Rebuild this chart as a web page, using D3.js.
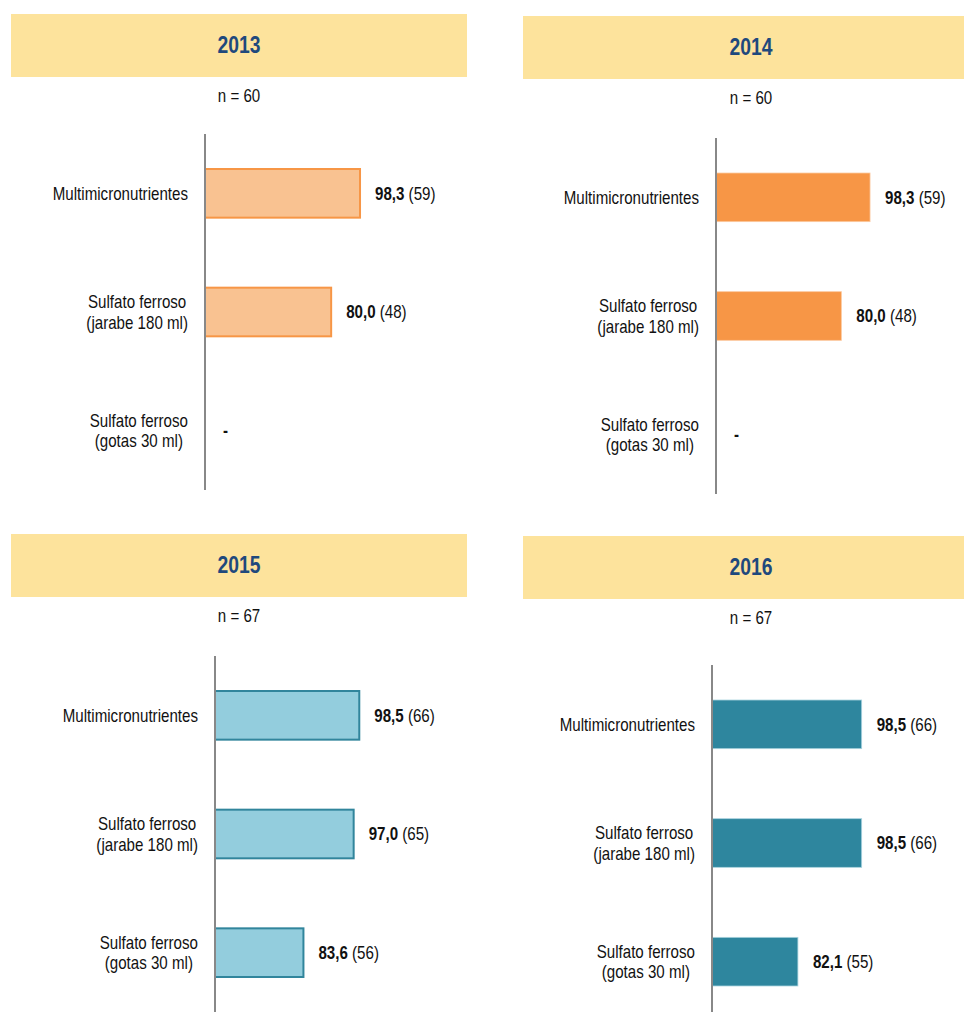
<!DOCTYPE html>
<html>
<head>
<meta charset="utf-8">
<script src="https://cdn.jsdelivr.net/npm/d3@7"></script>
<style>
  html, body { margin: 0; padding: 0; background: #fff; }
  svg { display: block; }
  text { font-family: 'Liberation Sans', Arial, sans-serif; }
</style>
</head>
<body>
<svg id="chart" width="964" height="1012"></svg>
<script>
// ---------------- DATA ----------------
const years = ["2013", "2014", "2015", "2016"];
const sampleN = [60, 60, 67, 67];
const categories = [
  ["Multimicronutrientes"],
  ["Sulfato ferroso", "(jarabe 180 ml)"],
  ["Sulfato ferroso", "(gotas 30 ml)"]
];
const pct2013 = [98.3, 80.0, null];
const cnt2013 = [59, 48, null];
const pct2014 = [98.3, 80.0, null];
const cnt2014 = [59, 48, null];
const pct2015 = [98.5, 97.0, 83.6];
const cnt2015 = [66, 65, 56];
const pct2016 = [98.5, 98.5, 82.1];
const cnt2016 = [66, 66, 55];
const valueDomains = [[0, 100], [0, 100], [60, 100], [60, 100]];

const pctSeries = [pct2013, pct2014, pct2015, pct2016];
const cntSeries = [cnt2013, cnt2014, cnt2015, cnt2016];

// ---------------- LAYOUT / STYLE ----------------
const layout = [
  { hx: 11,  hy: 14,  titleY: 45,  nY: 96,  axisX: 205, y0: 134, y1: 490,  xw: 157.7, fill: "#F9C291", stroke: "#F79646", sw: 2 },
  { hx: 523, hy: 16,  titleY: 47,  nY: 98,  axisX: 716, y0: 138, y1: 494,  xw: 156.7, fill: "#F79646", stroke: "#FBC9A0", sw: 0.8 },
  { hx: 11,  hy: 534, titleY: 565, nY: 616, axisX: 215, y0: 656, y1: 1012, xw: 149.9, fill: "#93CDDD", stroke: "#31859C", sw: 2 },
  { hx: 523, hy: 536, titleY: 567, nY: 618, axisX: 712, y0: 665, y1: 1021, xw: 155.5, fill: "#2E869E", stroke: "#A9D3DE", sw: 0.8 }
];
const headerW = 456, headerH = 63;
const headerFill = "#FDE39C";
const titleColor = "#1F497D";
const fontSize = 18;
const narrow = 0.84; // horizontal condensation to mimic a narrow typeface

const locale = d3.formatLocale({ decimal: ",", thousands: ".", grouping: [3], currency: ["", ""] });
const fmt = locale.format(".1f");

const svg = d3.select("#chart");

function addText(parent, x, y, anchor) {
  return parent.append("text")
    .attr("transform", `translate(${x},${y}) scale(${narrow},1)`)
    .attr("dy", "0.36em")
    .attr("text-anchor", anchor || "start")
    .attr("font-size", fontSize)
    .attr("fill", "#111");
}

years.forEach((yr, i) => {
  const L = layout[i];
  const g = svg.append("g");

  // header
  g.append("rect")
    .attr("x", L.hx).attr("y", L.hy)
    .attr("width", headerW).attr("height", headerH)
    .attr("fill", headerFill);
  addText(g, L.hx + headerW / 2, L.titleY, "middle")
    .attr("font-size", 23).attr("font-weight", "bold")
    .attr("fill", titleColor)
    .text(yr);
  addText(g, L.hx + headerW / 2, L.nY, "middle")
    .text("n = " + sampleN[i]);

  // scales
  const y = d3.scaleBand()
    .domain(categories.map((c, k) => k))
    .range([L.y0, L.y1])
    .paddingInner(0.59)
    .paddingOuter(0.295);
  const x = d3.scaleLinear()
    .domain(valueDomains[i])
    .range([L.axisX, L.axisX + L.xw]);

  const rows = categories.map((c, k) => ({ k, lines: c, v: pctSeries[i][k], n: cntSeries[i][k] }));

  // bars
  g.selectAll("rect.bar")
    .data(rows.filter(d => d.v != null))
    .join("rect")
    .attr("class", "bar")
    .attr("x", x(valueDomains[i][0]))
    .attr("y", d => y(d.k))
    .attr("width", d => x(d.v) - x(valueDomains[i][0]))
    .attr("height", y.bandwidth())
    .attr("fill", L.fill)
    .attr("stroke", L.stroke)
    .attr("stroke-width", L.sw);

  // axis line (category axis)
  g.append("line")
    .attr("x1", L.axisX).attr("x2", L.axisX)
    .attr("y1", L.y0).attr("y2", L.y1)
    .attr("stroke", "#888888").attr("stroke-width", 2);

  // category labels (block right-aligned, lines centered within block)
  rows.forEach(d => {
    const cy = y(d.k) + y.bandwidth() / 2;
    const lh = 20.7;
    const tg = g.append("g");
    const probe = d.lines.map(ln => {
      const t = tg.append("text").attr("font-size", fontSize).text(ln);
      const w = t.node().getComputedTextLength() * narrow;
      t.remove();
      return w;
    });
    const maxW = d3.max(probe);
    const cx = L.axisX - 17 - maxW / 2;
    d.lines.forEach((ln, j) => {
      addText(tg, cx, cy + (j - (d.lines.length - 1) / 2) * lh, "middle").text(ln);
    });
  });

  // value labels
  rows.forEach(d => {
    const cy = y(d.k) + y.bandwidth() / 2;
    if (d.v == null) {
      addText(g, L.axisX + 18, cy).attr("font-weight", "bold").text("-");
    } else {
      const t = addText(g, x(d.v) + 15, cy);
      t.append("tspan").attr("font-weight", "bold").text(fmt(d.v));
      t.append("tspan").text(" (" + d.n + ")");
    }
  });
});
</script>
</body>
</html>
